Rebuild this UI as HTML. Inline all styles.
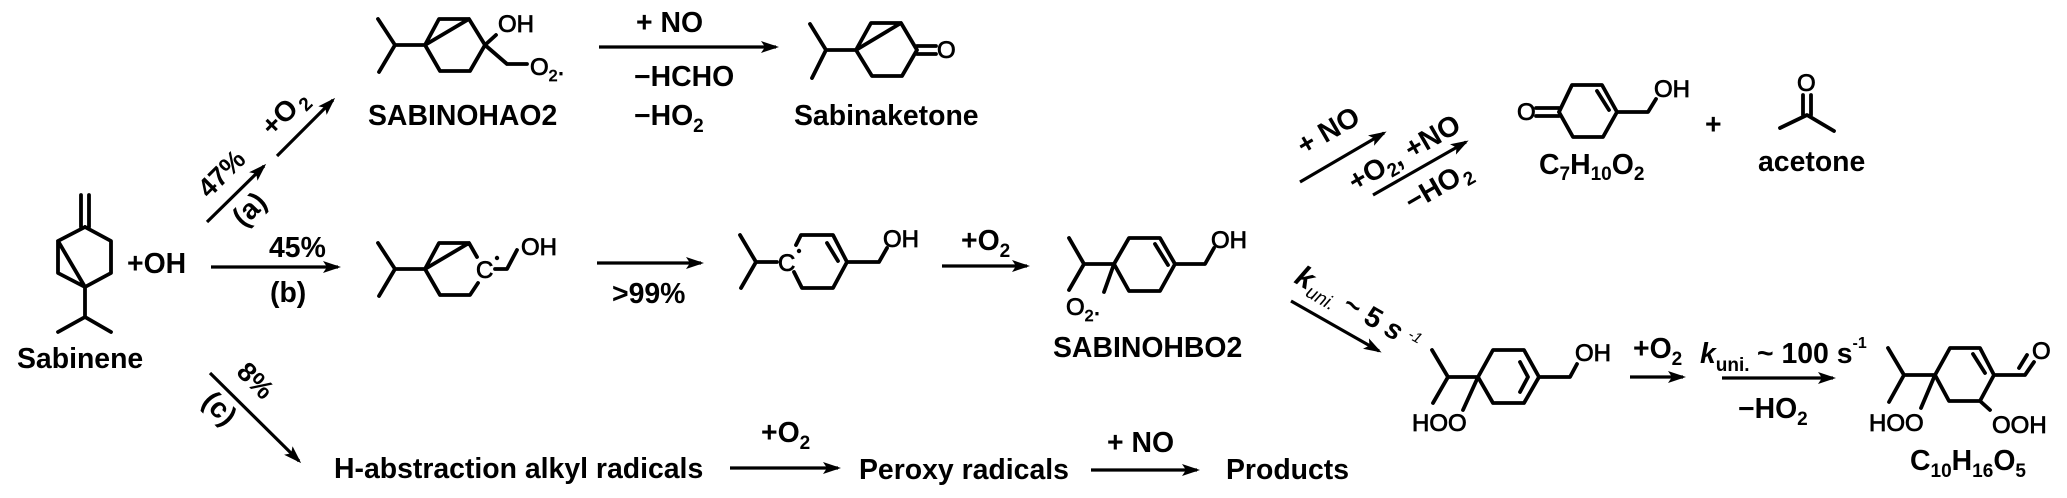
<!DOCTYPE html>
<html><head><meta charset="utf-8"><style>
html,body{margin:0;padding:0;background:#fff;width:2067px;height:498px;overflow:hidden}
svg{display:block}
text{font-family:"Liberation Sans",Arial,sans-serif;font-weight:700;font-size:28.4px;fill:#000;white-space:pre}
.a{font-size:24px;font-weight:400;stroke:#000;stroke-width:.8px}
.b{fill:none;stroke:#000;stroke-width:3.8;stroke-linecap:round;stroke-linejoin:round}
.r{fill:none;stroke:#000;stroke-width:3.2;stroke-linecap:butt}
</style></head><body>
<svg width="2067" height="498" viewBox="0 0 2067 498" xmlns="http://www.w3.org/2000/svg">
<defs><marker id="h" markerUnits="userSpaceOnUse" markerWidth="24" markerHeight="16" refX="15" refY="6" orient="auto"><path d="M0 0L18 6L0 12L4 6Z" fill="#000"/></marker></defs>

<!-- Sabinene -->
<path class="b" d="M81 195V227M89 195V227M85 227L111 241V273L85 287L58 273V241L85 227M58 241L85 287V317M58 332L85 317L111 332"/>
<text x="17" y="368">Sabinene</text>
<text x="127" y="273">+OH</text>

<!-- branch arrows -->
<path class="r" marker-end="url(#h)" d="M207 222L264 166"/>
<path class="r" marker-end="url(#h)" d="M277 156L333 100"/>
<path class="r" marker-end="url(#h)" d="M211 267H338"/>
<path class="r" marker-end="url(#h)" d="M210 373L299 461"/>
<text transform="translate(228,180) rotate(-45)" text-anchor="middle" style="font-size:27px">47%</text>
<text transform="translate(256,216) rotate(-45)" text-anchor="middle">(a)</text>
<text transform="translate(291,119) rotate(-45)" text-anchor="middle">+O<tspan dx="3" dy="6" style="font-size:19px">2</tspan></text>
<text x="269" y="257">45%</text>
<text x="270" y="302">(b)</text>
<text transform="translate(249,387) rotate(45)" text-anchor="middle" style="font-size:27px">8%</text>
<text transform="translate(213,415) rotate(45)" text-anchor="middle">(c)</text>

<!-- SABINOHAO2 -->
<path class="b" d="M378 19L395 45L379 72M395 45H425L439 19H469L485 45L470 71H440L425 45L469 19M485 45L496 35M485 45L507 64H527"/>
<text class="a" x="498" y="32">OH</text>
<text class="a" x="530" y="75">O<tspan dy="6" style="font-size:16px">2</tspan><tspan dy="-6">.</tspan></text>
<text x="368" y="125">SABINOHAO2</text>

<path class="r" marker-end="url(#h)" d="M599 47H776"/>
<text x="636" y="32">+ NO</text>
<text x="634" y="86">−HCHO</text>
<text x="634" y="125">−HO<tspan dy="7" style="font-size:19px">2</tspan></text>

<!-- Sabinaketone -->
<path class="b" d="M810 24L826 50L812 78M826 50H856L871 23H901L917 50L902 76H872L856 50L901 23M917 46H936M917 54H936"/>
<text class="a" x="937" y="58">O</text>
<text x="794" y="125">Sabinaketone</text>

<!-- radical 1 -->
<path class="b" d="M378 243L395 269L379 296M395 269H425L439 243H469L477 257M425 269L440 295H470L478 283M425 269L469 243M495 269H507L517 250"/>
<text class="a" x="476" y="278">C</text>
<circle cx="497" cy="258" r="2.2" fill="#000"/>
<text class="a" x="521" y="255">OH</text>

<path class="r" marker-end="url(#h)" d="M597 263H701"/>
<text x="612" y="303">&gt;99%</text>

<!-- radical 2 -->
<path class="b" d="M740 235L756 262L741 288M756 262H777M796 245L801 235H833L847 262L833 288H802L794 272M827 243L838 261M847 262H879L887 248"/>
<text class="a" x="778" y="271">C</text>
<circle cx="799" cy="251" r="2.2" fill="#000"/>
<text class="a" x="883" y="247">OH</text>

<path class="r" marker-end="url(#h)" d="M942 266H1027"/>
<text x="961" y="250">+O<tspan dy="7" style="font-size:19px">2</tspan></text>

<!-- SABINOHBO2 -->
<path class="b" d="M1069 238L1084 264L1069 290M1084 264H1114L1129 238H1160L1175 264L1160 291H1129L1114 264L1104 292M1155 244L1168 265M1175 264H1205L1214 248"/>
<text class="a" x="1211" y="248">OH</text>
<text class="a" x="1066" y="315">O<tspan dy="6" style="font-size:16px">2</tspan><tspan dy="-6">.</tspan></text>
<text x="1053" y="357">SABINOHBO2</text>

<!-- upper right branch -->
<path class="r" marker-end="url(#h)" d="M1300 182L1384 133"/>
<path class="r" marker-end="url(#h)" d="M1373 195L1466 142"/>
<text transform="translate(1333,139) rotate(-30)" text-anchor="middle">+ NO</text>
<text transform="translate(1409,161) rotate(-30)" text-anchor="middle">+O<tspan dy="6" style="font-size:19px">2</tspan><tspan dy="-6">, +NO</tspan></text>
<text transform="translate(1443,194) rotate(-30)" text-anchor="middle">−HO<tspan dx="2" dy="6" style="font-size:19px">2</tspan></text>

<!-- lower right branch -->
<path class="r" marker-end="url(#h)" d="M1291 301L1379 351"/>
<text transform="translate(1293,282) rotate(30)"><tspan font-style="italic" style="font-size:30px">k</tspan><tspan dy="6" style="font-size:19px;font-weight:400" font-style="italic">uni.</tspan><tspan dy="-6"> ~ 5 </tspan><tspan font-style="italic">s</tspan><tspan dx="3" dy="-9" style="font-size:15px;font-weight:400" font-style="italic"> -1</tspan></text>

<!-- C7H10O2 -->
<text class="a" x="1517" y="120">O</text>
<path class="b" d="M1536 108H1559M1536 116H1559M1559 112L1572 85H1602L1617 112L1603 137H1573L1559 112M1597 91L1609 110M1617 112H1648L1656 99"/>
<text class="a" x="1654" y="97">OH</text>
<text x="1539" y="174">C<tspan dy="6" style="font-size:19px">7</tspan><tspan dy="-6">H</tspan><tspan dy="6" style="font-size:19px">10</tspan><tspan dy="-6">O</tspan><tspan dy="6" style="font-size:19px">2</tspan></text>
<text x="1705" y="134">+</text>

<!-- acetone -->
<text class="a" x="1797" y="91">O</text>
<path class="b" d="M1803 95V115M1811 95V115M1780 128L1807 115L1834 131"/>
<text x="1758" y="171">acetone</text>

<!-- HOO intermediate -->
<path class="b" d="M1432 350L1448 377L1433 403M1448 377H1478L1493 350H1524L1539 377L1524 403H1493L1478 377L1463 410M1520 362L1528 377L1520 392M1539 377H1570L1577 364"/>
<text class="a" x="1412" y="431">HOO</text>
<text class="a" x="1575" y="361">OH</text>

<path class="r" marker-end="url(#h)" d="M1630 377H1683"/>
<text x="1633" y="358">+O<tspan dy="7" style="font-size:19px">2</tspan></text>
<path class="r" marker-end="url(#h)" d="M1722 378H1833"/>
<text x="1700" y="363"><tspan font-style="italic">k</tspan><tspan dy="8" style="font-size:19px">uni.</tspan><tspan dy="-8" x="1757">~ 100 s</tspan><tspan dy="-15" style="font-size:16px">-1</tspan></text>
<text x="1738" y="418">−HO<tspan dy="7" style="font-size:19px">2</tspan></text>

<!-- C10H16O5 -->
<path class="b" d="M1888 348L1904 375L1889 402M1904 375H1935L1950 348H1980L1994 375L1980 401H1949L1935 375L1921 408M1973 354L1985 373M1980 401L1990 410M1994 375H2025L2034 362M2019 368L2027 355"/>
<text class="a" x="2032" y="359">O</text>
<text class="a" x="1869" y="431">HOO</text>
<text class="a" x="1992" y="433">OOH</text>
<text x="1910" y="470">C<tspan dy="7" style="font-size:19px">10</tspan><tspan dy="-7">H</tspan><tspan dy="7" style="font-size:19px">16</tspan><tspan dy="-7">O</tspan><tspan dy="7" style="font-size:19px">5</tspan></text>

<!-- bottom row -->
<text x="334" y="478">H-abstraction alkyl radicals</text>
<path class="r" marker-end="url(#h)" d="M730 468H838"/>
<text x="761" y="442">+O<tspan dy="7" style="font-size:19px">2</tspan></text>
<text x="859" y="479">Peroxy radicals</text>
<path class="r" marker-end="url(#h)" d="M1091 470H1197"/>
<text x="1107" y="452">+ NO</text>
<text x="1226" y="479">Products</text>
</svg>
</body></html>
